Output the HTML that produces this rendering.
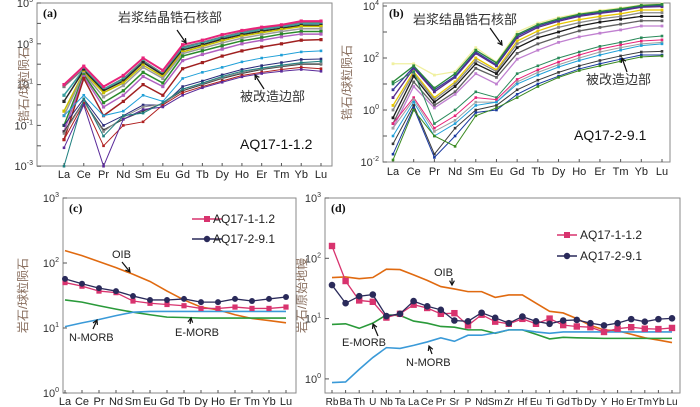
<!DOCTYPE html>
<html><head><meta charset="utf-8"><style>
body{margin:0;background:#fff;}
svg{display:block;font-family:"Liberation Sans","Noto Sans CJK SC",sans-serif;}
</style></head><body>
<svg id="s" width="700" height="407" viewBox="0 0 700 407" xmlns="http://www.w3.org/2000/svg"></svg>
<script>
const REE=["La","Ce","Pr","Nd","Sm","Eu","Gd","Tb","Dy","Ho","Er","Tm","Yb","Lu"];
const SPIDER=["Rb","Ba","Th","U","Nb","Ta","La","Ce","Pr","Sr","P","Nd","Sm","Zr","Hf","Eu","Ti","Gd","Tb","Dy","Y","Ho","Er","Tm","Yb","Lu"];
// panel a
const aCore1=[10,80,8,28,200,50,900,1500,2800,4500,6500,8500,13000,13000];
const aCore2=[8,60,6,20,150,35,700,1200,2200,3700,5500,7500,11000,11000];
const aCore3=[1.5,50,5,15,120,30,500,900,1700,2800,4200,5800,8000,8000];
const aCore4=[0.5,40,4,12,90,25,400,750,1400,2400,3500,5000,7000,7000];
const aCore5=[0.1,30,1.3,5,40,12,250,450,800,1400,2000,3000,4000,4000];
const aCore6=[0.05,25,0.8,3,25,8,150,300,550,1000,1500,2200,3000,3000];
const aCore7=[0.02,20,0.3,1.5,10,3,60,120,250,450,700,1000,1500,1600];
const aCore8=[3,55,6,18,130,32,600,1100,2000,3300,5000,6800,9500,9800];
const aCore9=[0.3,35,2.5,9,70,20,330,600,1100,1900,2800,4000,5500,5500];
const aRim1=[0.3,3,0.3,0.5,3,1.5,20,40,70,130,200,280,400,450];
const aRim2=[0.1,2,0.1,0.3,1,1,8,15,30,55,85,120,170,180];
const aRim3=[0.05,1.5,0.06,0.2,0.5,1.2,5,10,20,35,55,75,100,100];
const aRim4=[0.02,1.2,0.01,0.1,0.15,1,4,8,15,28,40,55,70,60];
const aRim5=[0.008,1,0.001,0.2,0.6,0.8,3,7,13,24,35,45,55,45];
const aRim6=[0.001,2,0.03,0.3,0.4,1.3,6,12,25,45,65,90,120,140];
const aRim7=[0.04,1.4,0.05,0.25,0.8,1.1,6,11,22,40,60,80,110,110];
// panel b
const bCore1=[12,50,7,25,200,65,800,1900,3200,4800,6200,7800,10500,11500];
const bCore2=[3,40,5,18,150,50,600,1500,2600,4000,5200,6500,9000,9500];
const bCore3=[1.5,30,3,12,100,35,450,1100,2000,3000,4000,5000,7000,7000];
const bCore4=[0.5,20,2,8,60,25,250,600,1000,1700,2400,3100,4000,4000];
const bCore5=[0.3,12,1.5,5,40,18,150,350,650,1100,1500,2000,2700,2700];
const bCore6=[0.2,8,1.2,4,25,10,90,200,400,650,900,1200,1700,1700];
const bCore7=[60,60,22,30,250,70,1000,2200,3600,5200,6800,8500,11000,12000];
const bCore8=[6,45,6,20,170,55,700,1700,2900,4400,5700,7200,9800,10500];
const bCore9=[1,25,2.5,10,80,30,350,850,1500,2300,3200,4000,5500,5500];
const bRim1=[10,30,0.3,1,5,3,25,50,100,170,280,400,600,700];
const bRim2=[0.3,3,0.2,0.6,3,2.5,15,35,70,130,220,320,450,500];
const bRim3=[0.1,2,0.1,0.3,1.5,2,10,22,45,80,130,200,300,350];
const bRim4=[0.05,1.5,0.02,0.2,1,1.5,6,14,28,50,80,120,170,180];
const bRim5=[0.02,1.2,0.015,0.1,0.8,1,4,10,20,38,60,90,130,130];
const bRim6=[0.012,1,0.1,0.04,0.6,1.2,3,8,18,33,50,75,110,120];
const bRim7=[0.2,2.5,0.15,0.4,2,2,12,28,55,100,170,250,350,400];
// panel c
const cSample1=[50,44,37,35,26,24,23,22,20,20,21,20,20,21];
const cSample2=[57,48,41,37,31,27,27,28,25,25,28,26,28,30];
const cOIB=[155,130,105,85,67,52,37,27,21,19,16,14,13,12];
const cEMORB=[27,25,22,19.5,17.5,16,14.7,14.5,14.2,14.2,14.2,14.2,14.2,14.2];
const cNMORB=[10.5,12,13.5,15.5,17.5,18,18,18,18,18,18,18,18,18];
// panel d
const dSample1=[160,42,20,19,10.4,12,17,15,12,12.3,7.7,11.6,8.9,8.2,9.9,8.2,10,7.8,7.4,7.2,6,6.8,7.2,6.8,6.7,7];
const dSample2=[36,18,23.5,25,11,12,19.5,16,14,9.3,9,12.5,10.3,8.4,10.8,9,8.2,9.3,9.5,8.4,7.7,8.4,9.8,8.9,9.8,10.1];
const dOIB=[48,49,46,48,66,65,53,43,34,31,28,28,22.5,24.7,24.7,18,13.2,12.4,10,7.7,6.5,6.3,5.5,4.8,4.4,4];
const dEMORB=[8,8.2,6.9,8.4,11.5,11.3,9.1,8.4,7.4,7.2,6.5,6.5,5.7,6.5,6.5,5.5,4.6,4.9,4.8,4.75,4.7,4.7,4.7,4.7,4.7,4.7];
const dNMORB=[0.87,0.89,1.44,2.26,3.3,3.2,3.6,4.1,4.8,4.2,5.3,5.3,5.8,6.5,6.5,6,5.7,6,6,6,6,6,6,6,6,6];

const S=document.getElementById('s');const NS="http://www.w3.org/2000/svg";
function el(t,a,p){const e=document.createElementNS(NS,t);for(const k in a)e.setAttribute(k,a[k]);(p||S).appendChild(e);return e;}
function panel(o){
  const g=el('g',{});
  
  
  const f=el('rect',{x:o.x0,y:o.y0,width:o.x1-o.x0,height:o.y1-o.y0,fill:'none',stroke:'#8a8a8a','stroke-width':1},g);
  
  
  o.X=i=>o.xa+i*(o.xb-o.xa)/(o.cats.length-1);
  o.Y=v=>o.yTop+(o.dTop-Math.log10(v))*o.dec;
  for(let d=o.dMin;d<=o.dTop;d++){
    const y=o.Y(Math.pow(10,d));
    el('line',{x1:o.x0,x2:o.x0+4,y1:y,y2:y,stroke:'#555'},g);
    if(o.labs.includes(d)){
      const t=el('text',{x:o.x0-4,y:y+4,'text-anchor':'end','font-size':11,fill:'#333'},g);
      
      
      t.textContent='10';const sp=el('tspan',{dy:-5,'font-size':7},t);sp.textContent=String(d);
    }
  }
  o.cats.forEach((c,i)=>{
    const x=o.X(i);
    el('line',{x1:x,x2:x,y1:o.y1,y2:o.y1-3,stroke:'#555'},g);
    const t=el('text',{x:x,y:o.lab,'text-anchor':'middle','font-size':o.fs,fill:'#222'},g);
    
    
    t.textContent=c;
  });
  const tt=el('text',{x:o.tx,y:(o.y0+o.y1)/2,'text-anchor':'middle','font-size':12,fill:'#8a7060',transform:`rotate(-90 ${o.tx} ${(o.y0+o.y1)/2})`},g);
  
  
  tt.textContent=o.title;
  const pl=el('text',{x:o.x0+6,y:o.y0+14,'font-size':12,'font-weight':'bold','font-family':'Liberation Serif,serif',fill:'#111'},g);
  
  
  pl.textContent=o.plabel;
  return g;
}
function series(o,g,vals,color,w,marker,name,ms){
  const pts=vals.map((v,i)=>[o.X(i),o.Y(v)]);
  const p=el('polyline',{points:pts.map(q=>q.join(',')).join(' '),fill:'none',stroke:color,'stroke-width':w},g);
  
  
  if(marker)pts.forEach(q=>{
    let m;
    if(marker==='sq')m=el('rect',{x:q[0]-ms,y:q[1]-ms,width:2*ms,height:2*ms,fill:color},g);
    else m=el('circle',{cx:q[0],cy:q[1],r:ms,fill:color},g);
    
    
  });
}
function txt(s,x,y,size,name,fill){const t=el('text',{x:x,y:y,'font-size':size,fill:fill||'#222'});t.textContent=s;return t;}
function arrow(x1,y1,x2,y2,name){
  const a=Math.atan2(y2-y1,x2-x1),L=5;
  const g=el('g',{stroke:'#111','stroke-width':1.2,fill:'none'});
  
  
  el('line',{x1,y1,x2,y2},g);
  el('polyline',{points:`${x2-L*Math.cos(a-0.5)},${y2-L*Math.sin(a-0.5)} ${x2},${y2} ${x2-L*Math.cos(a+0.5)},${y2-L*Math.sin(a+0.5)}`},g);
}
// Panel A
const A={name:'panel-a',x0:37,x1:332,y0:3,y1:166,xa:64,xb:321,yTop:3,dTop:5,dMin:-3,dec:20.4,labs:[5,3,1,-1,-3],cats:REE,lab:178,fs:11,tx:28,title:'锆石/球粒陨石',plabel:'(a)'};
const gA=panel(A);
[aCore2,aCore8,aCore3,aCore4,aCore9,aCore5,aCore6,aCore7,aCore1].forEach((d,i)=>series(A,gA,d,['#7a7a7a','#3aa0a0','#2a2a2a','#c8c000','#9a9a9a','#2a8a2a','#b060c0','#a02020','#e8237a'][i],i==8?2:1.5,'sq','core-line-'+(i+1),1.6));
[aRim1,aRim2,aRim3,aRim7,aRim4,aRim5,aRim6].forEach((d,i)=>series(A,gA,d,['#20a0d8','#2a2a7a','#3a3a3a','#8a8a8a','#b02020','#5a2a9a','#208080'][i],1,'sq','rim-line-'+(i+1),1.3));
txt('岩浆结晶锆石核部',118,22,13,'core-annotation','#333');
arrow(177,30,186,43,'core-arrow');
txt('被改造边部',240,101,13,'rim-annotation','#333');
arrow(264,89,255,75,'rim-arrow');
txt('AQ17-1-1.2',240,149,14,'sample-label-a','#111');
// Panel B
const B={name:'panel-b',x0:383,x1:670,y0:3,y1:162,xa:393,xb:662,yTop:6,dTop:4,dMin:-2,dec:26,labs:[4,2,0,-2],cats:REE,lab:175,fs:11,tx:351,title:'锆石/球粒陨石',plabel:'(b)'};
const gB=panel(B);
[bCore2,bCore8,bCore3,bCore9,bCore4,bCore5,bCore6,bCore7,bCore1].forEach((d,i)=>series(B,gB,d,['#5a2a8a','#3a3a9a','#e8c800','#8a8a8a','#1a1a1a','#606060','#c080d0','#f0f0a0','#2a8a3a'][i],1.3,'sq','core-line-'+(i+1),1.4));
[bRim1,bRim2,bRim7,bRim3,bRim4,bRim5,bRim6].forEach((d,i)=>series(B,gB,d,['#2a8a5a','#e8237a','#a0a0a0','#20a0d8','#3a3a3a','#1a3aa0','#3a8a20'][i],1,'sq','rim-line-'+(i+1),1.3));
txt('岩浆结晶锆石核部',413,24,13,'core-annotation','#333');
arrow(490,28,502,45,'core-arrow');
txt('被改造边部',586,84,13,'rim-annotation','#333');
arrow(627,72,622,58,'rim-arrow');
txt('AQ17-2-9.1',574,140,14,'sample-label-b','#111');
// Panel C
const C={name:'panel-c',x0:63,x1:296,y0:198,y1:393,xa:65,xb:286,yTop:198,dTop:3,dMin:0,dec:65,labs:[3,2,1,0],cats:REE,lab:405,fs:11,tx:27,title:'岩石/球粒陨石',plabel:'(c)'};
const gC=panel(C);
series(C,gC,cOIB,'#e06a10',1.6,null,'oib-line');
series(C,gC,cEMORB,'#2a9a3a',1.6,null,'e-morb-line');
series(C,gC,cNMORB,'#3a9ad8',1.6,null,'n-morb-line');
series(C,gC,cSample1,'#d8336e',1.3,'sq','aq17-1-1-2-line',2.6);
series(C,gC,cSample2,'#2a2a5a',1.3,'ci','aq17-2-9-1-line',3);
el('line',{x1:192,x2:222,y1:219,y2:219,stroke:'#d8336e','stroke-width':1.5});el('rect',{x:204,y:216,width:6,height:6,fill:'#d8336e'});
txt('AQ17-1-1.2',213,223,12,'legend-entry-aq17-1-1-2');
el('line',{x1:192,x2:222,y1:239,y2:239,stroke:'#2a2a5a','stroke-width':1.5});el('circle',{cx:207,cy:239,r:3.2,fill:'#2a2a5a'});
txt('AQ17-2-9.1',213,243,12,'legend-entry-aq17-2-9-1');
txt('OIB',112,258,11,'oib-label');arrow(122,262,130,272,'oib-arrow');
txt('N-MORB',69,341,11,'n-morb-label');arrow(93,329,97,320,'n-morb-arrow');
txt('E-MORB',175,336,11,'e-morb-label');arrow(190,324,191,318,'e-morb-arrow');
// Panel D
const D={name:'panel-d',x0:325,x1:680,y0:198,y1:393,xa:332,xb:672,yTop:198,dTop:3,dMin:0,dec:60.3,labs:[3,2,1,0],cats:SPIDER,lab:405,fs:10,tx:306,title:'岩石/原始地幔',plabel:'(d)'};
const gD=panel(D);
series(D,gD,dOIB,'#e06a10',1.6,null,'oib-line');
series(D,gD,dEMORB,'#2a9a3a',1.6,null,'e-morb-line');
series(D,gD,dNMORB,'#3a9ad8',1.6,null,'n-morb-line');
series(D,gD,dSample1,'#d8336e',1.3,'sq','aq17-1-1-2-line',3.2);
series(D,gD,dSample2,'#2a2a5a',1.3,'ci','aq17-2-9-1-line',3.3);
el('line',{x1:557,x2:577,y1:235,y2:235,stroke:'#d8336e','stroke-width':1.5});el('rect',{x:564,y:232,width:6,height:6,fill:'#d8336e'});
txt('AQ17-1-1.2',580,239,12,'legend-entry-aq17-1-1-2');
el('line',{x1:557,x2:577,y1:256,y2:256,stroke:'#2a2a5a','stroke-width':1.5});el('circle',{cx:567,cy:256,r:3.2,fill:'#2a2a5a'});
txt('AQ17-2-9.1',580,260,12,'legend-entry-aq17-2-9-1');
txt('OIB',434,276,11,'oib-label');arrow(452,278,452,285,'oib-arrow');
txt('E-MORB',342,346,11,'e-morb-label');arrow(378,336,373,324,'e-morb-arrow');
txt('N-MORB',406,366,11,'n-morb-label');arrow(432,354,429,346,'n-morb-arrow');
</script>
</body></html>
